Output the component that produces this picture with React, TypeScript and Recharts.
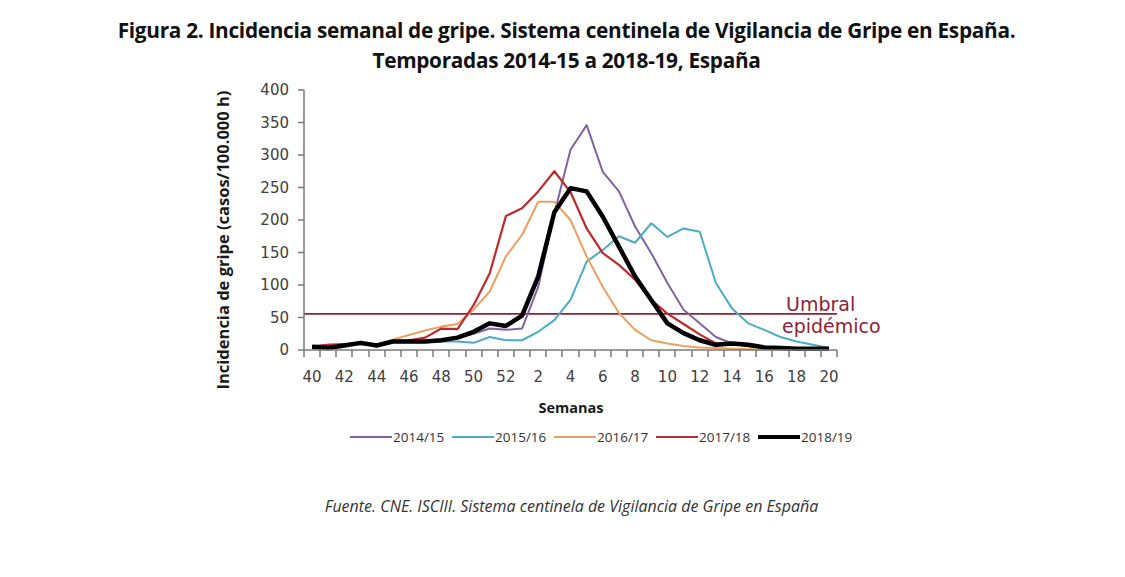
import { Line, LineChart, ReferenceLine, XAxis, YAxis } from "recharts";

// Semana epidemiológica (40-52 y 1-20)
const weeks = [
  "40", "41", "42", "43", "44", "45", "46", "47", "48", "49", "50", "51", "52",
  "1", "2", "3", "4", "5", "6", "7", "8", "9", "10", "11", "12", "13", "14",
  "15", "16", "17", "18", "19", "20",
];

// Tasa semanal por temporada (casos/100.000 h)
const t1415 = [6, 8, 8, 10, 9, 13, 14, 14, 15, 18, 25, 33, 31, 33, 97, 210, 308, 346, 274, 244, 190, 149, 103, 62, 41, 20, 10, 6, 4, 3, 2, 2, 1];
const t1516 = [5, 6, 7, 9, 8, 12, 12, 12, 13, 13, 11, 20, 15, 15, 28, 46, 77, 136, 154, 175, 165, 195, 174, 187, 182, 103, 64, 41, 31, 20, 13, 8, 3];
const t1617 = [5, 7, 8, 10, 8, 16, 23, 30, 36, 40, 62, 90, 144, 177, 228, 228, 200, 144, 97, 57, 31, 15, 10, 6, 4, 3, 2, 1, 1, 1, 1, 1, 1];
const t1718 = [5, 8, 9, 10, 8, 14, 15, 19, 33, 32, 69, 118, 206, 218, 244, 275, 243, 187, 149, 131, 108, 77, 56, 40, 24, 10, 10, 6, 4, 3, 2, 2, 1];
const t1819 = [5, 3, 7, 11, 7, 13, 13, 13, 15, 19, 28, 41, 37, 53, 113, 212, 249, 244, 205, 159, 113, 77, 41, 26, 15, 8, 10, 8, 4, 3, 2, 2, 2];

const yTicks = [0, 50, 100, 150, 200, 250, 300, 350, 400];
const umbral = 55.5;

const series = [
  { key: "2014/15", values: t1415, color: "#8064A2", width: 2 },
  { key: "2015/16", values: t1516, color: "#4BACC6", width: 2 },
  { key: "2016/17", values: t1617, color: "#E9A060", width: 2 },
  { key: "2017/18", values: t1718, color: "#BE2A2C", width: 2.2 },
  { key: "2018/19", values: t1819, color: "#000000", width: 4.5 },
];

const data = weeks.map((w, i) => {
  const row: Record<string, string | number> = { week: w };
  series.forEach((s) => (row[s.key] = s.values[i]));
  return row;
});

const PLOT_LEFT = 304;
const PLOT_RIGHT = 837;
const band = (PLOT_RIGHT - PLOT_LEFT) / weeks.length;
const axisGrey = "#7a7a7a";
const tickFont = "'DejaVu Sans', Verdana, sans-serif";
const textFont = "'Open Sans', sans-serif";

// Excel-style category axis: tick marks between categories, labels every other week
function WeekTick(props: any) {
  const { x, y, payload, index } = props;
  const left = Math.round(x - band / 2);
  const right = Math.round(x + band / 2);
  return (
    <g>
      <rect x={left - 0.75} y={y} width={1.5} height={7} fill={axisGrey} />
      {index === weeks.length - 1 && (
        <rect x={right - 0.75} y={y} width={1.5} height={7} fill={axisGrey} />
      )}
      {index % 2 === 0 && (
        <text x={x} y={y + 32} textAnchor="middle" fontSize={15} fontFamily={tickFont} fill="#404040">
          {payload.value}
        </text>
      )}
    </g>
  );
}

function UmbralLabel(props: any) {
  const { viewBox } = props;
  const y = viewBox.y;
  return (
    <text fontSize={19} fontFamily={tickFont} fill="#8B2236">
      <tspan x={786} y={y - 3}>Umbral</tspan>
      <tspan x={782} y={y + 19}>epidémico</tspan>
    </text>
  );
}

export default function App() {
  return (
    <div
      style={{
        position: "absolute",
        left: 0,
        top: 0,
        width: 1125,
        height: 577,
        background: "#fff",
        fontFamily: textFont,
      }}
    >
      <div
        style={{
          position: "absolute",
          top: 15,
          left: 0,
          width: 1133,
          textAlign: "center",
          fontWeight: 700,
          fontSize: 20.8,
          lineHeight: "30px",
          letterSpacing: -0.3,
          color: "#111",
        }}
      >
        <div>Figura 2. Incidencia semanal de gripe. Sistema centinela de Vigilancia de Gripe en España.</div>
        <div>Temporadas 2014-15 a 2018-19, España</div>
      </div>

      <div style={{ position: "absolute", left: 0, top: 0 }}>
        <LineChart
          width={1125}
          height={577}
          data={data}
          margin={{ top: 90, right: 1125 - PLOT_RIGHT, bottom: 197, left: PLOT_LEFT - 60 }}
        >
          <XAxis
            dataKey="week"
            interval={0}
            padding={{ left: band / 2, right: band / 2 }}
            tick={(p: any) => <WeekTick {...p} />}
            tickLine={false}
            tickSize={0}
            tickMargin={0}
            axisLine={{ stroke: axisGrey, strokeWidth: 1.5 }}
            height={30}
          />
          <YAxis
            domain={[0, 400]}
            ticks={yTicks}
            width={60}
            tickSize={6}
            tickMargin={9}
            tickLine={{ stroke: axisGrey, strokeWidth: 1.5 }}
            axisLine={{ stroke: axisGrey, strokeWidth: 1.5 }}
            tick={{ fontSize: 15, fontFamily: tickFont, fill: "#404040" }}
          />
          <ReferenceLine
            y={umbral}
            stroke="#8B2236"
            strokeWidth={1.8}
            ifOverflow="visible"
            label={<UmbralLabel />}
          />
          {series.map((s) => (
            <Line
              key={s.key}
              type="linear"
              dataKey={s.key}
              stroke={s.color}
              strokeWidth={s.width}
              dot={false}
              activeDot={false}
              isAnimationActive={false}
              strokeLinejoin="round"
            />
          ))}
        </LineChart>
      </div>

      {/* vertical axis title */}
      <div
        style={{
          position: "absolute",
          left: 222,
          top: 240,
          transform: "translate(-50%, -50%) rotate(-90deg)",
          whiteSpace: "nowrap",
          fontWeight: 700,
          fontSize: 16.5,
          color: "#1a1a1a",
        }}
      >
        Incidencia de gripe (casos/100.000 h)
      </div>

      <div
        style={{
          position: "absolute",
          left: 571,
          top: 407,
          transform: "translate(-50%, -50%)",
          fontWeight: 700,
          fontSize: 14.5,
          color: "#1a1a1a",
        }}
      >
        Semanas
      </div>

      {/* legend */}
      {series.map((s, i) => (
        <div
          key={s.key}
          style={{
            position: "absolute",
            left: 350 + i * 102,
            top: 428,
            height: 18,
            display: "flex",
            alignItems: "center",
            fontSize: 13.5,
            color: "#333",
          }}
        >
          <span
            style={{
              display: "inline-block",
              width: 42,
              height: s.width,
              background: s.color,
              marginRight: 1,
            }}
          />
          {s.key}
        </div>
      ))}

      <div
        style={{
          position: "absolute",
          left: 0,
          width: 1143,
          top: 495,
          textAlign: "center",
          fontStyle: "italic",
          fontSize: 16,
          color: "#333",
        }}
      >
        Fuente. CNE. ISCIII. Sistema centinela de Vigilancia de Gripe en España
      </div>
    </div>
  );
}
